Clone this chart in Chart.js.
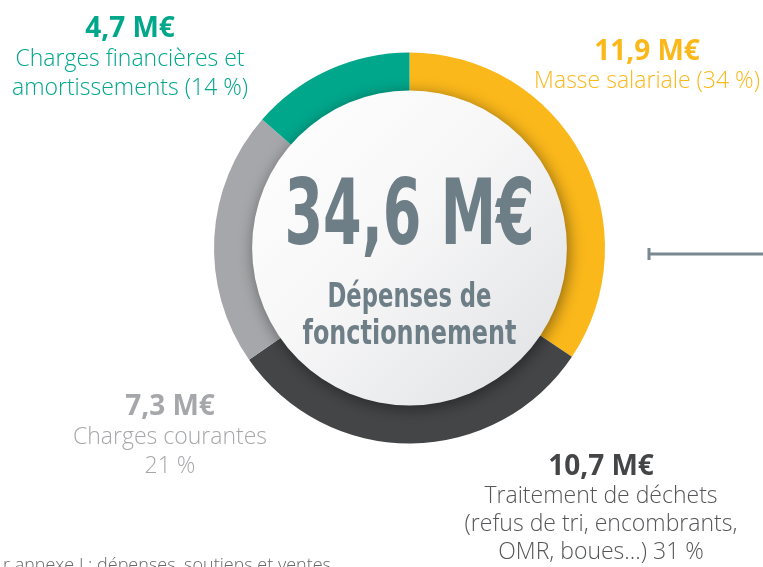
<!DOCTYPE html>
<html lang="fr">
<head>
<meta charset="utf-8">
<script src="https://cdn.jsdelivr.net/npm/chart.js@4/dist/chart.umd.min.js"></script>
<style>
  html, body { margin: 0; padding: 0; background: #ffffff; }
  #wrap { width: 763px; height: 567px; position: relative; }
</style>
</head>
<body>
<div id="wrap"><canvas id="c" width="763" height="567"></canvas></div>
<script>
// ---- Data ----
const categories = ['Masse salariale', 'Traitement de déchets', 'Charges courantes', 'Charges financières et amortissements'];
const values = [11.9, 10.7, 7.3, 4.7];          // M€
const percents = [34, 31, 21, 14];              // %
const totalValue = 34.6;                        // M€
const centerTitle = ['Dépenses de', 'fonctionnement'];
const labelLines = [
  ['Masse salariale (34 %)'],
  ['Traitement de déchets', '(refus de tri, encombrants,', 'OMR, boues…) 31 %'],
  ['Charges courantes', '21 %'],
  ['Charges financières et', 'amortissements (14 %)']
];
const footnote = 'r annexe I : dépenses, soutiens et ventes';

// ---- Styles ----
const sliceColors = ['#FBB81A', '#444547', '#A6A7AA', '#00A78B'];
const valueColors = ['#FBB81A', '#444547', '#A6A7AA', '#00A78B'];
const textColors  = ['#FBB81A', '#555658', '#A6A7AA', '#00A78B'];
const labelAnchors = [
  { x: 647, y: 60,  lh: 28 },
  { x: 601, y: 475, lh: 28 },
  { x: 170, y: 415, lh: 29 },
  { x: 130, y: 37,  lh: 29 }
];

const fmt = v => v.toFixed(1).replace('.', ',') + ' M€';

const decorPlugin = {
  id: 'decor',
  afterDatasetsDraw(chart) {
    const ctx = chart.ctx;
    const arc = chart.getDatasetMeta(0).data[0];
    const cx = arc.x, cy = arc.y, r = arc.innerRadius + 1;

    // centre disc with shadow
    ctx.save();
    ctx.shadowColor = 'rgba(0,0,0,0.45)';
    ctx.shadowBlur = 16;
    ctx.shadowOffsetX = 2;
    ctx.shadowOffsetY = 3;
    const g = ctx.createLinearGradient(cx - r, cy - r, cx + r, cy + r);
    g.addColorStop(0, '#ffffff');
    g.addColorStop(0.45, '#f7f7f8');
    g.addColorStop(1, '#dfe0e2');
    ctx.fillStyle = g;
    ctx.beginPath();
    ctx.arc(cx, cy, r, 0, Math.PI * 2);
    ctx.fill();
    ctx.restore();

    // centre text
    ctx.save();
    ctx.fillStyle = '#6E7E87';
    ctx.textAlign = 'center';
    ctx.textBaseline = 'alphabetic';
    ctx.font = 'bold 90px "Liberation Sans Narrow", "DejaVu Sans Condensed", "Liberation Sans", sans-serif';
    ctx.fillText(fmt(totalValue), cx, 244, 250);
    ctx.font = 'bold 34px "Liberation Sans Narrow", "DejaVu Sans Condensed", "Liberation Sans", sans-serif';
    ctx.fillText(centerTitle[0], cx, 307, 164);
    ctx.fillText(centerTitle[1], cx, 344, 214);
    ctx.restore();

    // outside labels
    ctx.save();
    ctx.textAlign = 'center';
    ctx.textBaseline = 'alphabetic';
    values.forEach((v, i) => {
      const a = labelAnchors[i];
      ctx.fillStyle = valueColors[i];
      ctx.font = 'bold 28px "Open Sans", Lato, sans-serif';
      ctx.fillText(fmt(v), a.x, a.y);
      ctx.fillStyle = textColors[i];
      ctx.font = '300 23px "Open Sans", Lato, sans-serif';
      labelLines[i].forEach((line, k) => {
        ctx.fillText(line, a.x, a.y + a.lh * (k + 1));
      });
    });
    ctx.restore();

    // footnote (cut at the bottom)
    ctx.save();
    ctx.fillStyle = '#666768';
    ctx.font = '300 18px "Open Sans", Lato, sans-serif';
    ctx.textAlign = 'left';
    ctx.fillText(footnote, 3, 571);
    ctx.restore();

    // connector line on the right
    ctx.save();
    ctx.strokeStyle = '#7A8891';
    ctx.lineWidth = 3;
    ctx.beginPath();
    ctx.moveTo(649, 254);
    ctx.lineTo(763, 254);
    ctx.moveTo(649, 248);
    ctx.lineTo(649, 260);
    ctx.stroke();
    ctx.restore();
  }
};

new Chart(document.getElementById('c'), {
  type: 'doughnut',
  data: {
    labels: categories,
    datasets: [{
      data: values,
      backgroundColor: sliceColors,
      borderWidth: 0,
      hoverOffset: 0
    }]
  },
  options: {
    responsive: false,
    animation: false,
    cutout: '80%',
    layout: { padding: { top: 52, bottom: 123, left: 214, right: 158 } },
    plugins: {
      legend: { display: false },
      tooltip: { enabled: false }
    }
  },
  plugins: [decorPlugin]
});
</script>
</body>
</html>
